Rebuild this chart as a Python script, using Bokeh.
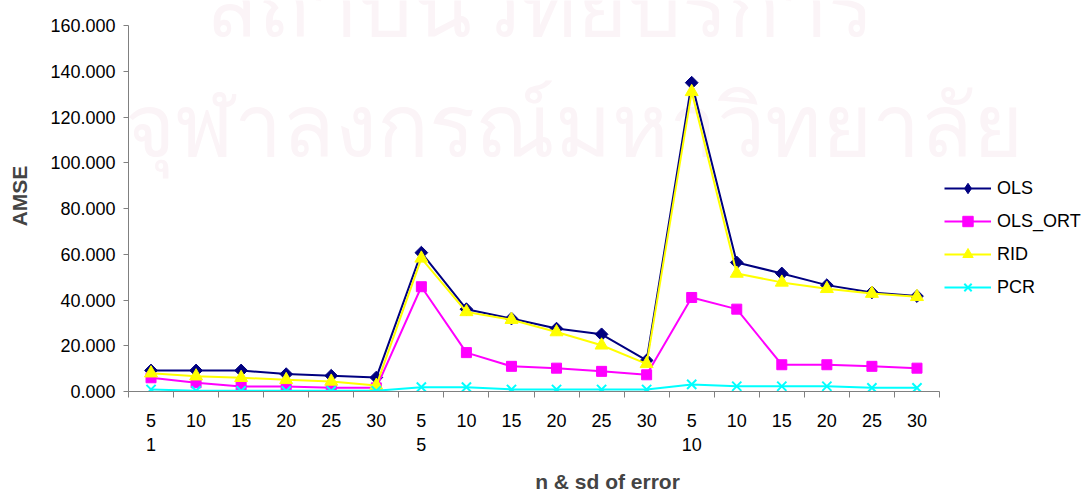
from bokeh.plotting import figure
from bokeh.models import (FixedTicker, LinearAxis, NumeralTickFormatter, Legend,
                          LegendItem, Label)
from bokeh.embed import file_html
from bokeh.resources import INLINE
import math

# ---- data ----
n_labels = ["5", "10", "15", "20", "25", "30",
            "5", "10", "15", "20", "25", "30",
            "5", "10", "15", "20", "25", "30"]
sd_groups = ["1", "5", "10"]
group_size = 6

ols = [9.2, 9.2, 9.2, 7.6, 6.9, 6.1,
       60.7, 36.0, 31.9, 27.5, 25.0, 13.6,
       135.0, 56.4, 51.6, 46.5, 43.3, 41.7]
ols_ort = [6.0, 3.8, 2.2, 2.2, 1.6, 1.6,
           45.8, 17.0, 11.0, 10.2, 8.8, 7.3,
           41.1, 36.0, 11.7, 11.7, 11.0, 10.2]
rid = [8.0, 6.7, 6.0, 5.1, 4.4, 2.6,
       58.2, 34.8, 31.4, 26.0, 20.2, 12.1,
       131.0, 51.6, 47.7, 44.9, 42.8, 41.4]
pcr = [0.9, 0.3, 0.3, 0.3, 0.3, 0.3,
       1.9, 1.9, 0.9, 0.9, 0.9, 0.9,
       3.1, 2.3, 2.3, 2.3, 1.6, 1.6]
y_ticks = [0, 20, 40, 60, 80, 100, 120, 140, 160]
watermark = ["สถาบันวิทยบริการ", "จุฬาลงกรณ์มหาวิทยาลัย"]

FONT = "Liberation Sans"
N = len(n_labels)
Y_MAX = 160
xs = [i + 0.5 for i in range(N)]

# plot area: axes span 811 px (x) and 366 px (y); the frame is widened to the
# right edge / top edge so the legend and watermark are not clipped
FRAME_W, AXIS_W = 958, 811
FRAME_H, AXIS_H = 391, 366
p = figure(width=1086, height=495,
           x_range=(0, N * FRAME_W / AXIS_W),
           y_range=(0, Y_MAX * FRAME_H / AXIS_H),
           output_backend="svg", toolbar_location=None,
           min_border_left=128, min_border_right=0,
           min_border_top=0, min_border_bottom=104)
p.xgrid.visible = False
p.ygrid.visible = False
p.outline_line_color = None
p.background_fill_color = "white"
p.border_fill_color = "white"

# faint watermark (frame-relative screen units)
wm1 = Label(x=77, y=386, x_units="screen", y_units="screen",
            text=watermark[0], text_font_size="86px", text_baseline="alphabetic",
            text_color="#fbf4f7", text_font=FONT, level="underlay")
wm2 = Label(x=-4, y=266, x_units="screen", y_units="screen",
            text=watermark[1], text_font_size="86px", text_baseline="alphabetic",
            text_color="#fbf4f7", text_font=FONT, level="underlay")
p.add_layout(wm1)
p.add_layout(wm2)

# y axis
ya = p.yaxis[0]
ya.bounds = (0, Y_MAX)
ya.ticker = FixedTicker(ticks=y_ticks)
ya.formatter = NumeralTickFormatter(format="0.000")
ya.axis_label = "AMSE"
ya.axis_label_text_font = FONT
ya.axis_label_text_font_style = "bold"
ya.axis_label_text_font_size = "21px"
ya.axis_label_standoff = 16
ya.major_label_text_font = FONT
ya.major_label_text_font_size = "18px"
ya.major_label_standoff = 8
ya.major_tick_out = 5
ya.major_tick_in = 0
ya.minor_tick_out = 0
ya.minor_tick_in = 0
ya.axis_line_color = "#808080"
ya.major_tick_line_color = "#808080"
ya.major_label_text_color = "black"

# main x axis: labels at category centres, tick marks at category boundaries
xa = p.xaxis[0]
xa.bounds = (0, N)
xa.ticker = FixedTicker(ticks=xs, minor_ticks=list(range(N + 1)))
xa.major_label_overrides = {x: lab for x, lab in zip(xs, n_labels)}
xa.major_label_text_font = FONT
xa.major_label_text_font_size = "18px"
xa.major_label_text_color = "black"
xa.major_label_standoff = 16
xa.major_tick_out = 6
xa.major_tick_in = 0
xa.major_tick_line_color = None
xa.minor_tick_out = 6
xa.minor_tick_in = 0
xa.minor_tick_line_color = "#808080"
xa.minor_tick_line_width = 1
xa.axis_line_color = "#808080"

# sd group row
gx = [g * group_size + 0.5 for g in range(len(sd_groups))]
ax_sd = LinearAxis(ticker=FixedTicker(ticks=gx, minor_ticks=[]),
                   major_label_overrides={x: lab for x, lab in zip(gx, sd_groups)})
ax_sd.bounds = (0, N)
ax_sd.axis_line_color = None
ax_sd.major_tick_line_color = None
ax_sd.minor_tick_line_color = None
ax_sd.major_tick_out = 0
ax_sd.major_tick_in = 0
ax_sd.minor_tick_out = 0
ax_sd.minor_tick_in = 0
ax_sd.major_label_standoff = 8
ax_sd.major_label_text_font = FONT
ax_sd.major_label_text_font_size = "18px"
ax_sd.major_label_text_color = "black"
ax_sd.axis_label = "n & sd of error"
ax_sd.axis_label_text_font = FONT
ax_sd.axis_label_text_font_style = "bold"
ax_sd.axis_label_text_font_size = "21px"
ax_sd.axis_label_standoff = 16
p.add_layout(ax_sd, "below")

# series: (name, values, colour, plot-marker kwargs, legend-marker)
series = [
    ("OLS", ols, "#000080", dict(marker="square", size=9, angle=math.pi / 4), "diamond"),
    ("OLS_ORT", ols_ort, "#FF00FF", dict(marker="square", size=10), None),
    ("RID", rid, "#FFFF00", dict(marker="triangle", size=13), None),
    ("PCR", pcr, "#00FFFF", dict(marker="x", size=13, line_width=2), None),
]
items = []
for name, vals, col, mk, leg_marker in series:
    ln = p.line(xs, vals, line_color=col, line_width=2)
    swatch = None
    if leg_marker is not None:
        # diamond drawn underneath the (larger) rotated square; used as legend swatch
        swatch = p.scatter(xs, vals, marker=leg_marker, size=10,
                           fill_color=col, line_color=col)
    sc = p.scatter(xs, vals, fill_color=col, line_color=col, **mk)
    items.append(LegendItem(label=name, renderers=[ln, swatch if swatch is not None else sc]))

legend = Legend(items=items, location=(816, 91))
legend.border_line_color = None
legend.background_fill_alpha = 0
legend.glyph_width = 47
legend.glyph_height = 26
legend.label_standoff = 6
legend.spacing = 7
legend.padding = 0
legend.margin = 0
legend.label_text_font = FONT
legend.label_text_font_size = "18px"
legend.label_text_color = "black"
p.add_layout(legend)

open("out.html", "w").write(file_html(p, INLINE))
